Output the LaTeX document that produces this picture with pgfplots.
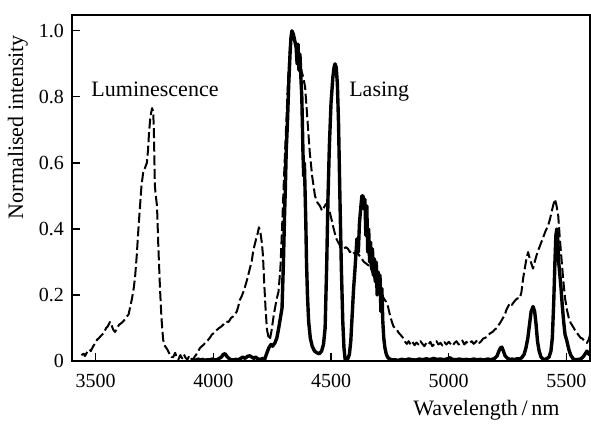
\documentclass[border=0pt]{standalone}
\usepackage{pgfplots}
\pgfplotsset{compat=1.18}
\usepackage{fontspec}
\setmainfont{Liberation Serif}

% luminescence spectrum (dashed)
\pgfplotstableread{
x y
3440 0.018
3450 0.022
3455 0.015
3465 0.028
3475 0.035
3480 0.030
3490 0.045
3500 0.055
3506 0.064
3515 0.070
3525 0.078
3535 0.085
3545 0.100
3552 0.105
3561 0.118
3568 0.108
3575 0.095
3583 0.088
3592 0.100
3600 0.110
3610 0.115
3620 0.122
3628 0.130
3633 0.135
3640 0.140
3646 0.160
3655 0.190
3662 0.220
3668 0.255
3675 0.320
3682 0.400
3689 0.470
3695 0.530
3702 0.570
3710 0.585
3718 0.600
3723 0.640
3727 0.690
3733 0.740
3740 0.766
3745 0.755
3748 0.690
3752 0.530
3756 0.500
3761 0.470
3767 0.340
3774 0.215
3780 0.130
3787 0.064
3795 0.045
3805 0.035
3815 0.020
3822 0.012
3830 0.012
3838 0.025
3845 0.010
3852 0.005
3860 0.018
3868 0.008
3875 0.020
3882 0.010
3890 0.004
3898 0.016
3905 0.008
3912 0.003
3920 0.012
3928 0.020
3936 0.030
3944 0.040
3952 0.045
3960 0.050
3968 0.058
3976 0.062
3985 0.070
3994 0.080
4003 0.085
4015 0.094
4025 0.100
4035 0.105
4045 0.112
4055 0.120
4065 0.118
4075 0.130
4084 0.135
4092 0.142
4100 0.150
4106 0.165
4113 0.185
4120 0.195
4128 0.210
4135 0.225
4143 0.245
4150 0.265
4157 0.285
4163 0.300
4169 0.330
4175 0.350
4182 0.370
4188 0.385
4194 0.405
4200 0.390
4206 0.360
4211 0.320
4216 0.240
4222 0.160
4228 0.095
4234 0.075
4240 0.064
4247 0.090
4255 0.130
4262 0.160
4270 0.190
4277 0.210
4285 0.280
4292 0.400
4300 0.550
4310 0.720
4318 0.860
4326 0.950
4334 0.990
4342 0.980
4350 0.960
4358 0.930
4366 0.910
4374 0.880
4382 0.860
4390 0.830
4400 0.730
4410 0.630
4420 0.560
4432 0.500
4442 0.480
4453 0.470
4462 0.455
4470 0.465
4478 0.475
4487 0.470
4495 0.450
4502 0.430
4508 0.410
4515 0.390
4523 0.370
4530 0.360
4538 0.350
4546 0.345
4555 0.340
4563 0.345
4572 0.340
4580 0.330
4590 0.335
4600 0.325
4610 0.330
4620 0.320
4630 0.310
4640 0.300
4650 0.295
4658 0.290
4665 0.290
4675 0.270
4685 0.250
4693 0.235
4700 0.220
4708 0.210
4716 0.200
4724 0.190
4733 0.180
4742 0.165
4750 0.140
4758 0.120
4765 0.105
4772 0.100
4780 0.094
4788 0.085
4797 0.078
4806 0.070
4815 0.058
4822 0.052
4830 0.060
4838 0.050
4846 0.058
4855 0.048
4863 0.056
4872 0.050
4880 0.060
4888 0.052
4897 0.045
4905 0.055
4913 0.050
4922 0.058
4930 0.045
4940 0.052
4948 0.060
4956 0.050
4965 0.055
4973 0.047
4982 0.057
4990 0.050
5000 0.058
5008 0.052
5016 0.046
5025 0.055
5033 0.060
5042 0.050
5050 0.056
5058 0.062
5066 0.050
5075 0.058
5083 0.052
5090 0.055
5098 0.060
5106 0.052
5115 0.058
5122 0.064
5130 0.055
5138 0.060
5146 0.068
5154 0.070
5162 0.073
5170 0.080
5178 0.085
5186 0.088
5195 0.095
5205 0.100
5213 0.110
5222 0.120
5230 0.130
5238 0.140
5245 0.155
5252 0.165
5260 0.175
5268 0.170
5276 0.178
5284 0.185
5292 0.190
5302 0.190
5309 0.210
5316 0.250
5323 0.280
5330 0.310
5337 0.330
5344 0.310
5351 0.295
5358 0.280
5365 0.300
5373 0.320
5380 0.335
5388 0.350
5396 0.365
5404 0.380
5412 0.395
5422 0.410
5430 0.430
5438 0.455
5445 0.475
5451 0.490
5458 0.470
5465 0.440
5472 0.370
5480 0.300
5487 0.240
5494 0.190
5502 0.155
5510 0.130
5518 0.115
5527 0.105
5535 0.095
5544 0.085
5552 0.078
5560 0.070
5568 0.068
5576 0.060
5587 0.055
5595 0.065
5600 0.080
}\lumdata

% lasing spectrum (solid)
\pgfplotstableread{
x y
3914 0.005
3925 0.002
3935 0.006
3945 0.003
3955 0.005
3965 0.002
3975 0.004
3985 0.003
3995 0.006
4005 0.004
4015 0.003
4025 0.008
4035 0.012
4042 0.020
4050 0.022
4058 0.014
4066 0.008
4075 0.004
4085 0.003
4095 0.005
4105 0.004
4115 0.007
4125 0.012
4135 0.008
4145 0.014
4155 0.016
4163 0.012
4172 0.008
4180 0.012
4190 0.006
4200 0.005
4210 0.008
4218 0.004
4228 0.025
4236 0.040
4245 0.050
4252 0.045
4262 0.055
4270 0.070
4278 0.100
4285 0.130
4292 0.160
4298 0.300
4303 0.450
4306 0.520
4310 0.640
4315 0.720
4320 0.830
4326 0.930
4330 0.980
4334 1.000
4340 0.990
4346 0.970
4352 0.950
4356 0.900
4360 0.960
4364 0.880
4368 0.930
4372 0.860
4376 0.800
4381 0.630
4384 0.560
4387 0.600
4390 0.510
4393 0.420
4396 0.300
4400 0.200
4405 0.120
4412 0.070
4420 0.045
4430 0.030
4440 0.025
4450 0.022
4460 0.030
4468 0.050
4475 0.100
4482 0.300
4487 0.490
4493 0.650
4500 0.780
4508 0.860
4513 0.890
4517 0.900
4522 0.890
4527 0.840
4532 0.720
4538 0.490
4544 0.280
4550 0.120
4555 0.040
4560 0.005
4565 0.010
4572 0.008
4578 0.020
4584 0.060
4590 0.140
4596 0.220
4602 0.280
4610 0.370
4616 0.330
4621 0.420
4626 0.460
4631 0.500
4636 0.500
4640 0.460
4644 0.490
4648 0.380
4652 0.470
4656 0.330
4660 0.400
4664 0.300
4668 0.360
4672 0.280
4676 0.340
4680 0.260
4684 0.310
4688 0.240
4692 0.300
4696 0.200
4700 0.270
4704 0.210
4708 0.260
4712 0.150
4716 0.220
4720 0.120
4724 0.070
4729 0.040
4735 0.020
4742 0.010
4750 0.006
4759 0.003
4770 0.004
4785 0.002
4800 0.005
4815 0.003
4830 0.006
4845 0.004
4860 0.003
4875 0.006
4890 0.004
4905 0.007
4920 0.004
4935 0.008
4950 0.005
4965 0.006
4980 0.004
4995 0.007
5005 0.010
5015 0.005
5030 0.004
5045 0.006
5060 0.004
5075 0.005
5090 0.003
5105 0.006
5120 0.004
5135 0.005
5150 0.003
5165 0.006
5180 0.004
5195 0.008
5205 0.015
5213 0.030
5220 0.040
5226 0.042
5232 0.030
5240 0.015
5250 0.008
5260 0.005
5270 0.006
5280 0.004
5290 0.007
5300 0.006
5310 0.010
5320 0.020
5328 0.040
5336 0.070
5343 0.110
5350 0.150
5358 0.165
5365 0.150
5371 0.110
5377 0.060
5384 0.030
5392 0.012
5400 0.006
5409 0.005
5418 0.008
5426 0.012
5434 0.030
5440 0.070
5446 0.180
5451 0.300
5455 0.380
5459 0.400
5463 0.370
5467 0.300
5472 0.260
5477 0.220
5482 0.170
5488 0.120
5494 0.080
5502 0.060
5510 0.035
5518 0.018
5529 0.006
5540 0.004
5550 0.005
5560 0.006
5570 0.012
5578 0.020
5587 0.030
5594 0.022
5600 0.018
}\lasdata

\begin{document}
\begin{tikzpicture}
\begin{axis}[
  scale only axis,
  width=259pt, height=173pt,
  xmin=3400, xmax=5600,
  ymin=0, ymax=1.048,
  axis line style={line width=0.6pt},
  tick pos=left,
  tick align=inside,
  major tick length=4pt,
  tick style={line width=0.6pt, black},
  xtick={3500,4000,4500,5000,5500},
  ytick={0,0.2,0.4,0.6,0.8,1.0},
  yticklabels={0,0.2,0.4,0.6,0.8,1.0},
  /pgf/number format/set thousands separator={},
  /pgf/number format/assume math mode=true,
  ticklabel style={font=\fontsize{10}{12}\selectfont},
  xticklabel style={yshift=-3pt},
  yticklabel style={xshift=-0.5pt},
  ylabel={Normalised intensity},
  every axis y label/.style={at={(ticklabel cs:0.676)}, rotate=90, anchor=south, font=\fontsize{11}{13}\selectfont, inner sep=2pt},
  xlabel={Wavelength\,/\,nm},
  every axis x label/.style={at={(rel axis cs:0.80,0)}, anchor=center, yshift=-24.5pt, font=\fontsize{11}{13}\selectfont},
  clip=true,
]
\addplot[black, line width=1pt, dash pattern=on 5pt off 1.8pt, line join=round] table[x=x, y=y] {\lumdata};
\addplot[black, line width=1.7pt, line join=round] table[x=x, y=y] {\lasdata};
\node[anchor=base west, font=\fontsize{11}{13}\selectfont, inner sep=0pt] at (axis cs:3481,0.80) {Luminescence};
\node[anchor=base west, font=\fontsize{11}{13}\selectfont, inner sep=0pt] at (axis cs:4576,0.80) {Lasing};
\end{axis}
\pgfresetboundingbox
\path ([shift={(-36pt,-31.5pt)}]current axis.south west) rectangle ([shift={(0.5pt,7.5pt)}]current axis.north east);
\end{tikzpicture}
\end{document}
